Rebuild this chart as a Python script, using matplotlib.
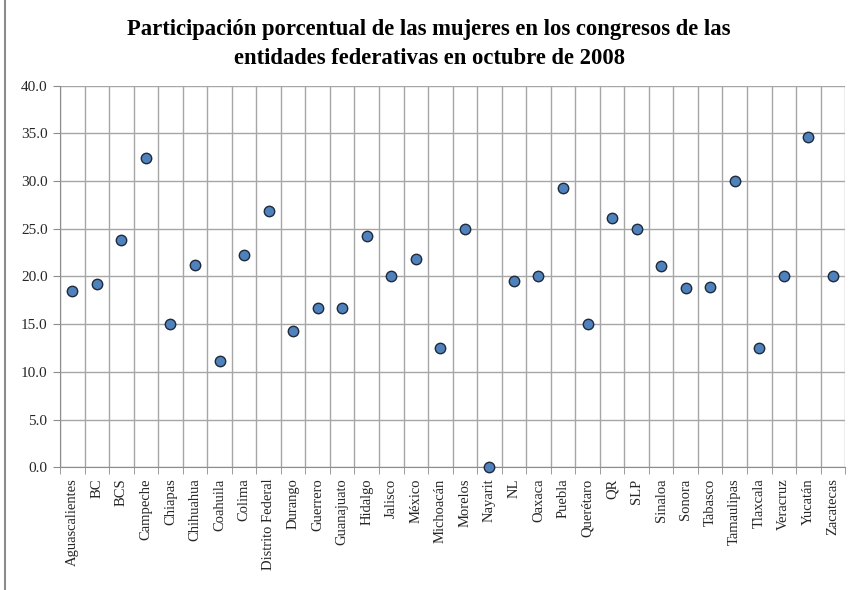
import numpy as np
import matplotlib.pyplot as plt
from matplotlib.patches import Rectangle

plt.rcParams['font.family'] = ['Liberation Serif', 'DejaVu Serif']

estados = ['Aguascalientes', 'BC', 'BCS', 'Campeche', 'Chiapas', 'Chihuahua',
           'Coahuila', 'Colima', 'Distrito Federal', 'Durango', 'Guerrero',
           'Guanajuato', 'Hidalgo', 'Jalisco', 'México', 'Michoacán', 'Morelos',
           'Nayarit', 'NL', 'Oaxaca', 'Puebla', 'Querétaro', 'QR', 'SLP',
           'Sinaloa', 'Sonora', 'Tabasco', 'Tamaulipas', 'Tlaxcala', 'Veracruz',
           'Yucatán', 'Zacatecas']
porcentaje = [18.5, 19.2, 23.8, 32.4, 15.0, 21.2, 11.1, 22.2, 26.9, 14.3,
              16.7, 16.7, 24.2, 20.0, 21.8, 12.5, 25.0, 0.0, 19.5, 20.0,
              29.3, 15.0, 26.1, 25.0, 21.1, 18.8, 18.9, 30.0, 12.5, 20.0,
              34.6, 20.0]

fig = plt.figure(figsize=(8.58, 5.9), dpi=100)
ax = fig.add_axes([0.070, 0.208, 0.915, 0.647])

x = np.arange(len(estados))
ax.plot(x, porcentaje, linestyle='none', marker='o', markersize=7.5,
        markerfacecolor='#4F81BD', markeredgecolor='#1F2A3A',
        markeredgewidth=1.0, zorder=3, clip_on=False)

ax.set_xlim(-0.5, len(estados) - 0.5)
ax.set_ylim(0, 40)
ax.set_yticks(np.arange(0, 40.1, 5))
ax.set_yticklabels(['%.1f' % v for v in np.arange(0, 40.1, 5)], fontsize=11,
                   color='#262626')

ax.set_xticks(x)
ax.set_xticklabels(estados, rotation=90, fontsize=10.5, color='#262626')
ax.tick_params(axis='x', which='major', length=0, pad=8)
ax.set_xticks(np.arange(-0.5, len(estados)), minor=True)
ax.tick_params(axis='x', which='minor', length=5, color='#8C8C8C')
ax.tick_params(axis='y', length=5, color='#8C8C8C', pad=4)

ax.grid(True, axis='y', which='major', color='#A6A6A6', linewidth=1.0)
ax.grid(True, axis='x', which='minor', color='#A6A6A6', linewidth=1.0)
ax.set_axisbelow(True)

for s in ['top', 'right']:
    ax.spines[s].set_visible(False)
for s in ['left', 'bottom']:
    ax.spines[s].set_color('#8C8C8C')

titulo = ['Participación porcentual de las mujeres en los congresos de las',
          'entidades federativas en octubre de 2008']
fig.text(0.5, 1 - 30 / 590, titulo[0], ha='center', va='center',
         fontsize=16.3, fontweight='bold')
fig.text(0.5, 1 - 58 / 590, titulo[1], ha='center', va='center',
         fontsize=16.3, fontweight='bold')

fig.patches.append(Rectangle((0.006, -0.01), 1.2, 1.2, transform=fig.transFigure,
                             fill=False, edgecolor='#8C8C8C', linewidth=1.5))

fig.savefig('out.png', dpi=100)
